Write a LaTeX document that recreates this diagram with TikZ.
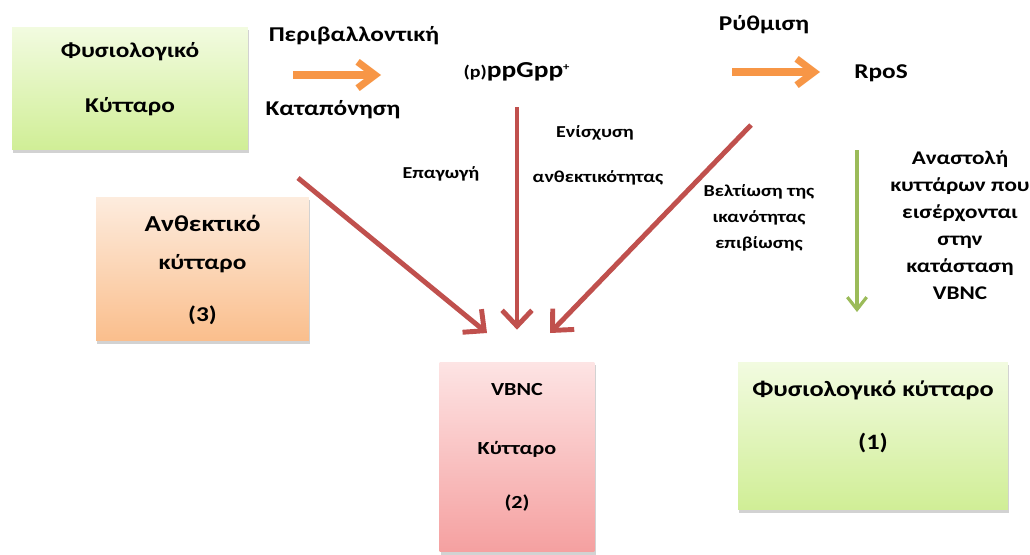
\documentclass[tikz,border=0pt]{standalone}
\usepackage{fontspec}
\setmainfont[FakeStretch=1.2]{Carlito}
\usetikzlibrary{arrows.meta,shadows}

\definecolor{arrowred}{RGB}{192,80,77}
\definecolor{arroworange}{RGB}{247,150,70}
\definecolor{arrowgreen}{RGB}{155,187,89}

\begin{document}
\begin{tikzpicture}[x=0.02cm, y=-0.02cm,
    cellbox/.style={rectangle, inner sep=0pt, drop shadow={shadow xshift=0.6pt, shadow yshift=-1.6pt, opacity=0.35}},
    greencell/.style={cellbox, top color={rgb,255:red,242;green,251;blue,224}, bottom color={rgb,255:red,208;green,238;blue,150}},
    orangecell/.style={cellbox, top color={rgb,255:red,253;green,236;blue,222}, bottom color={rgb,255:red,250;green,190;blue,140}},
    redcell/.style={cellbox, top color={rgb,255:red,253;green,228;blue,228}, bottom color={rgb,255:red,245;green,160;blue,160}},
    celltext/.style={align=center, font=\fontsize{12}{14.4}\selectfont\bfseries},
    note/.style={align=center, font=\fontsize{9.5}{11.4}\selectfont\bfseries},
    redarrow/.style={draw=arrowred, line width=2.8pt, -{Straight Barb[length=9pt,width=17pt]}},
    orangearrow/.style={draw=arroworange, line width=4pt, -{Straight Barb[length=10pt,width=15pt]}},
    greenarrow/.style={draw=arrowgreen, line width=1.8pt, -{Straight Barb[length=7pt,width=11pt]}}]
    \path[use as bounding box, fill=white] (0,0) rectangle (1030,554);

    % Cell boxes
    \node[greencell, minimum width=4.72cm, minimum height=2.46cm] (physio) at (130,88.5) {};
    \node[orangecell, minimum width=4.26cm, minimum height=2.88cm] (resist) at (202.5,269) {};
    \node[redcell, minimum width=3.1cm, minimum height=3.8cm] (vbnc) at (517,457) {};
    \node[greencell, minimum width=5.4cm, minimum height=2.96cm] (normal) at (873,436) {};

    % Box texts
    \node[celltext] (physiotext) at (130,79.5) {Φυσιολογικό\\[16.8pt]Κύτταρο};
    \node[celltext, font=\fontsize{13}{15.6}\selectfont\bfseries] (resisttitle) at (202.5,223) {Ανθεκτικό};
    \node[celltext] (resisttext) at (202.5,289.5) {κύτταρο\\[15.6pt](3)};
    \node[celltext, font=\fontsize{10.5}{12.6}\selectfont\bfseries] (vbnctext) at (517,447.5) {VBNC\\[20.9pt]Κύτταρο\\[18pt](2)};
    \node[celltext, font=\fontsize{12.5}{15}\selectfont\bfseries] (normaltext) at (873,416.5) {Φυσιολογικό κύτταρο\\[15pt](1)};

    % Top row
    \node[celltext] (environ) at (354,36) {Περιβαλλοντική};
    \node[celltext] (stress) at (333,110) {Καταπόνηση};
    \node[celltext, font=\fontsize{13}{15.6}\selectfont\bfseries] (ppgpp) at (517,72) {{\fontsize{9.5}{11}\selectfont(p)}ppGpp\textsuperscript{\fontsize{6}{7}\selectfont +}};
    \node[celltext] (regul) at (764,25) {Ρύθμιση};
    \node[celltext] (rpos) at (881,73) {RpoS};

    % Arrow labels
    \node[note] (induct) at (441,174) {Επαγωγή};
    \node[note] (boost) at (595,133) {Ενίσχυση};
    \node[note] (tolerance) at (598,178) {ανθεκτικότητας};
    \node[note] (survival) at (759,218) {Βελτίωση της\\[3.3pt]ικανότητας\\[3.3pt]επιβίωσης};
    \node[note, font=\fontsize{11}{13.2}\selectfont\bfseries] (inhibit) at (960,225) {Αναστολή\\[2.1pt]κυττάρων που\\[2.1pt]εισέρχονται\\[2.1pt]στην\\[2.1pt]κατάσταση\\[2.1pt]VBNC};

    % Arrow ends
    \coordinate (stressfrom) at (293,75);
    \coordinate (stressto) at (381,75);
    \coordinate (regulfrom) at (732,72);
    \coordinate (regulto) at (820,72);
    \coordinate (inductfrom) at (298,178);
    \coordinate (inductto) at (487,333);
    \coordinate (survivefrom) at (751,125);
    \coordinate (surviveto) at (550,333);
    \coordinate (inhibitfrom) at (857,150);
    \coordinate (inhibitto) at (857,312);

    % Arrows
    \draw[orangearrow] (stressfrom) -- (stressto);
    \draw[orangearrow] (regulfrom) -- (regulto);
    \draw[redarrow] (inductfrom) -- (inductto);
    \draw[redarrow, shorten <=0.4cm, shorten >=0.64cm] (vbnc.north |- ppgpp.south) -- (vbnc.north);
    \draw[redarrow] (survivefrom) -- (surviveto);
    \draw[greenarrow] (inhibitfrom) -- (inhibitto);
\end{tikzpicture}
\end{document}
